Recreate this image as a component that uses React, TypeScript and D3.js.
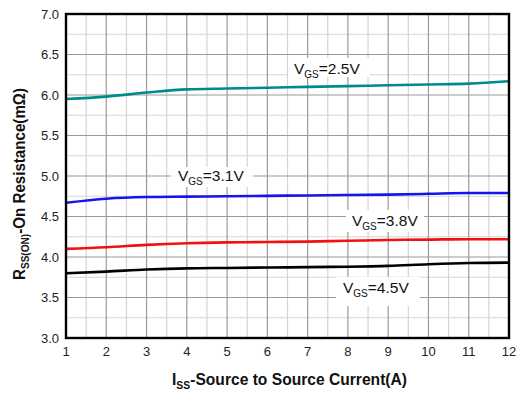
import React from "react";
import * as d3 from "d3";

const current = [1, 2, 3, 4, 5, 6, 7, 8, 9, 10, 11, 12];
const vgs25 = [5.95, 5.98, 6.03, 6.07, 6.08, 6.09, 6.1, 6.11, 6.12, 6.13, 6.14, 6.17];
const vgs31 = [4.67, 4.72, 4.74, 4.745, 4.75, 4.755, 4.76, 4.765, 4.77, 4.78, 4.79, 4.79];
const vgs38 = [4.1, 4.12, 4.15, 4.17, 4.18, 4.185, 4.19, 4.2, 4.21, 4.215, 4.22, 4.22];
const vgs45 = [3.8, 3.82, 3.845, 3.86, 3.865, 3.87, 3.875, 3.88, 3.89, 3.91, 3.925, 3.93];
const yTicks = [3.0, 3.5, 4.0, 4.5, 5.0, 5.5, 6.0, 6.5, 7.0];
const seriesNames = ["2.5V", "3.1V", "3.8V", "4.5V"];

const W = 517;
const H = 394;
const left = 66;
const right = 509;
const top = 14;
const bottom = 338;
const font = "'Liberation Sans', Arial, sans-serif";

const x = d3.scaleLinear().domain([1, 12]).range([left, right]);
const y = d3.scaleLinear().domain([3, 7]).range([bottom, top]);

const series = [
  { name: seriesNames[0], values: vgs25, color: "#008a8a", lx: 294, ly: 74, box: [288, 58, 82, 19] },
  { name: seriesNames[1], values: vgs31, color: "#1414f0", lx: 178, ly: 181, box: [171, 167, 82, 20] },
  { name: seriesNames[2], values: vgs38, color: "#f21010", lx: 352, ly: 226, box: [346, 210, 78, 22] },
  { name: seriesNames[3], values: vgs45, color: "#000000", lx: 343, ly: 293, box: [336, 277, 84, 29] },
];

const line = d3
  .line<number>()
  .x((_, i) => x(current[i]))
  .y((d) => y(d))
  .curve(d3.curveMonotoneX);

const minorX = d3.range(1.5, 12, 1);
const majorX = d3.range(2, 12, 1);
const minorY = d3.range(3.25, 7, 0.5);
const majorY = d3.range(3.5, 7, 0.5);

export default function App() {
  return (
    <svg
      width={W}
      height={H}
      style={{ position: "absolute", left: 0, top: 0, background: "#fff" }}
      fontFamily={font}
    >
      <rect x={0} y={0} width={W} height={H} fill="#fff" />
      <g>
        {minorX.map((v) => (
          <line key={"mx" + v} x1={x(v)} x2={x(v)} y1={top} y2={bottom} stroke="#d4d4d4" strokeWidth={1.2} />
        ))}
        {minorY.map((v) => (
          <line key={"my" + v} x1={left} x2={right} y1={y(v)} y2={y(v)} stroke="#d4d4d4" strokeWidth={1.2} />
        ))}
        {majorX.map((v) => (
          <line key={"Mx" + v} x1={x(v)} x2={x(v)} y1={top} y2={bottom} stroke="#9a9a9a" strokeWidth={1.2} />
        ))}
        {majorY.map((v) => (
          <line key={"My" + v} x1={left} x2={right} y1={y(v)} y2={y(v)} stroke="#9a9a9a" strokeWidth={1.2} />
        ))}
      </g>
      {series.map((s) => (
        <path key={s.name} d={line(s.values) || ""} fill="none" stroke={s.color} strokeWidth={2.6} />
      ))}
      {series.map((s) => (
        <g key={"lab" + s.name}>
          <rect x={s.box[0]} y={s.box[1]} width={s.box[2]} height={s.box[3]} fill="#fff" />
          <text x={s.lx} y={s.ly} fontSize={15.5} fill="#111">
            V
            <tspan fontSize={10} dy={4}>GS</tspan>
            <tspan dy={-4}>={s.name}</tspan>
          </text>
        </g>
      ))}
      <rect x={left} y={top} width={right - left} height={bottom - top} fill="none" stroke="#000" strokeWidth={2.4} />
      {yTicks.map((v) => (
        <text key={"yt" + v} x={left - 7} y={y(v) + 4.5} fontSize={13} textAnchor="end" fill="#222">
          {v.toFixed(1)}
        </text>
      ))}
      {current.map((v) => (
        <text key={"xt" + v} x={x(v)} y={356} fontSize={13} textAnchor="middle" fill="#222">
          {v}
        </text>
      ))}
      <text
        x={172}
        y={385}
        fontSize={16.5}
        fontWeight="bold"
        fill="#111"
        textLength={235}
        lengthAdjust="spacingAndGlyphs"
      >
        I<tspan fontSize={11} dy={4}>SS</tspan>
        <tspan dy={-4}>-Source to Source Current(A)</tspan>
      </text>
      <text
        transform={`translate(25,280) rotate(-90)`}
        fontSize={16.5}
        fontWeight="bold"
        fill="#111"
        textLength={192}
        lengthAdjust="spacingAndGlyphs"
      >
        R<tspan fontSize={11} dy={4}>SS(ON)</tspan>
        <tspan dy={-4}>-On Resistance(mΩ)</tspan>
      </text>
    </svg>
  );
}
